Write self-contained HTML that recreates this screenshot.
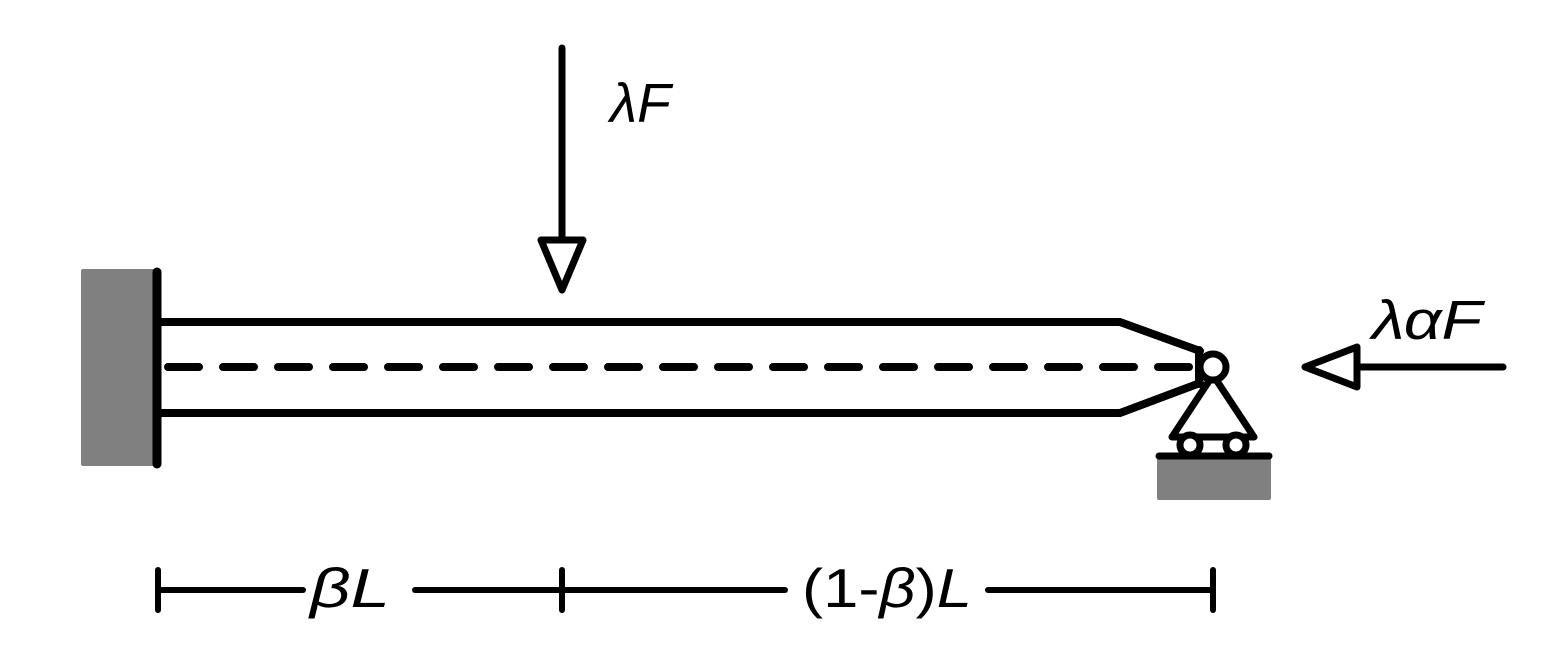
<!DOCTYPE html>
<html><head><meta charset="utf-8"><style>
html,body{margin:0;padding:0;background:#fff;}
svg{display:block;}
text{font-family:"Liberation Sans",sans-serif;font-size:55px;font-style:italic;fill:#000;}
</style></head><body>
<svg width="1565" height="664" viewBox="0 0 1565 664" xmlns="http://www.w3.org/2000/svg">
<rect x="81" y="269" width="78" height="197" rx="2" fill="#808080"/>
<line x1="157" y1="272" x2="157" y2="464" stroke="#000" stroke-width="9" stroke-linecap="round"/>
<g stroke="#000" stroke-width="8" fill="none" stroke-linejoin="round" stroke-linecap="round">
<polyline points="160,322 1120,322 1200,351"/>
<polyline points="160,413 1120,413 1200,383"/>
<line x1="1199" y1="350" x2="1199" y2="384"/>
</g>
<line x1="168" y1="367" x2="1200" y2="367" stroke="#000" stroke-width="8" stroke-linecap="round" stroke-dasharray="31 24"/>
<g stroke="#000" stroke-width="7" fill="#fff" stroke-linejoin="round">
<polygon points="1213,375 1172,437 1254,437"/>
<circle cx="1213" cy="367" r="13"/>
<circle cx="1190" cy="445" r="10"/>
<circle cx="1236" cy="445" r="10"/>
</g>
<rect x="1157" y="456" width="114" height="44" rx="2" fill="#808080"/>
<line x1="1159" y1="456" x2="1269" y2="456" stroke="#000" stroke-width="7" stroke-linecap="round"/>
<g stroke="#000" stroke-width="7" fill="#fff" stroke-linejoin="round" stroke-linecap="round">
<line x1="562" y1="48" x2="562" y2="240"/>
<polygon points="541,240 583,240 562,290"/>
<line x1="1360" y1="367" x2="1503" y2="367"/>
<polygon points="1357,347 1357,387 1305,367"/>
</g>
<text x="610" y="122">λF</text>
<text x="1372" y="339" textLength="110" lengthAdjust="spacingAndGlyphs">λαF</text>
<g stroke="#000" stroke-width="6" stroke-linecap="round">
<line x1="158" y1="570" x2="158" y2="610"/>
<line x1="562" y1="570" x2="562" y2="610"/>
<line x1="1213" y1="570" x2="1213" y2="610"/>
<line x1="158" y1="590" x2="303" y2="590"/>
<line x1="415" y1="590" x2="785" y2="590"/>
<line x1="988" y1="590" x2="1213" y2="590"/>
</g>
<text x="310" y="607" textLength="80" lengthAdjust="spacingAndGlyphs">βL</text>
<text x="802" y="607" textLength="170" lengthAdjust="spacingAndGlyphs"><tspan font-style="normal">(1-</tspan>β<tspan font-style="normal">)</tspan>L</text>
</svg>
</body></html>
